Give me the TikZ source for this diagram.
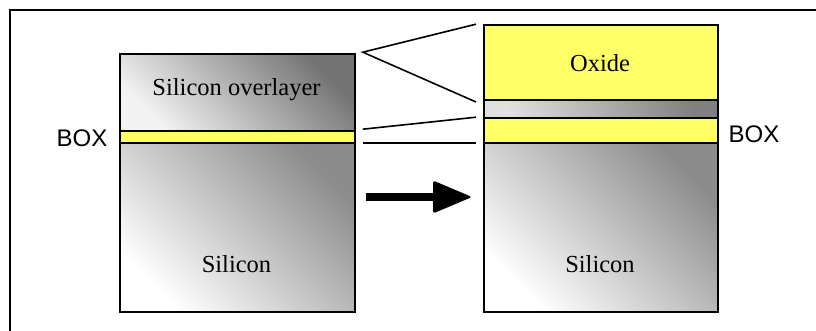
\documentclass[tikz,border=0pt]{standalone}
\usepackage{fontspec}
\setmainfont{Liberation Serif}
\newfontfamily\arialfont{Liberation Sans}
\usetikzlibrary{calc}
\definecolor{oxyellow}{RGB}{255,255,102}
\tikzset{
  layer/.style={draw=black, line width=1.8pt, inner sep=0pt, anchor=south west, minimum width=235pt},
  silicon/.style={layer, shading=axis, top color=black!45, middle color=black!12, bottom color=white, shading angle=-45},
  overlay/.style={layer, shading=axis, top color=black!55, middle color=black!25, bottom color=black!5, shading angle=-45},
  thinsi/.style={layer, shading=axis, top color=black!50, middle color=black!20, bottom color=black!12, shading angle=-70},
  oxide/.style={layer, fill=oxyellow},
  zoomline/.style={line width=1.6pt, black},
  lbl/.style={font=\fontsize{24.5}{28}\selectfont, anchor=base, inner sep=0pt},
  sanslbl/.style={font=\arialfont\fontsize{24}{28}\selectfont, anchor=base, inner sep=0pt},
  frameline/.style={line width=1.8pt, black}
}
\begin{document}
\begin{tikzpicture}[x=1pt,y=1pt]
\useasboundingbox (0,0) rectangle (816,331);
% frame (top and left edges visible)
\coordinate (fbl) at (10,-2);
\coordinate (ftl) at (10,321);
\coordinate (ftr) at (818,321);
\draw[frameline] (fbl) -- (ftl) -- (ftr);
% left stack
\node[overlay, minimum height=77pt] (lov) at (119,199) {};
\node[oxide, minimum height=12pt] (lbox) at (119,187) {};
\node[silicon, minimum height=169pt] (lsi) at (119,18) {};
% right stack
\node[oxide, minimum width=234pt, minimum height=75pt] (rox) at (483,230) {};
\node[thinsi, minimum width=234pt, minimum height=18pt] (rthin) at (483,212) {};
\node[oxide, minimum width=234pt, minimum height=25pt] (rbox) at (483,187) {};
\node[silicon, minimum width=234pt, minimum height=169pt] (rsi) at (483,18) {};
% labels
\node[lbl] (tov) at (236.5,235) {Silicon overlayer};
\node[lbl] (tlsi) at (236.5,58) {Silicon};
\node[lbl] (trsi) at (600,58) {Silicon};
\node[lbl] (tox) at (600,259) {Oxide};
\node[sanslbl] (tboxl) at (82,184) {BOX};
\node[sanslbl] (tboxr) at (754,188) {BOX};
% zoom lines
\coordinate (a1) at ($(lov.north east)+(7,1)$);
\coordinate (b1) at ($(rox.north west)+(-7,0)$);
\coordinate (b2) at ($(rox.south west)+(-7,-1)$);
\coordinate (a2) at ($(lbox.north east)+(7,1)$);
\coordinate (b3) at ($(rbox.north west)+(-7,0)$);
\coordinate (a3) at ($(lbox.south east)+(7,1)$);
\coordinate (b4) at ($(rbox.south west)+(-7,1)$);
\draw[zoomline] (b1) -- (a1) -- (b2);
\draw[zoomline] (a2) -- (b3);
\draw[zoomline] (a3) -- (b4);
% process arrow
\coordinate (as) at (366,134);
\coordinate (ab) at (436,134);
\coordinate (ae) at (472,134);
\draw[line width=8pt, black] (as) -- (ab);
\fill[black, rounded corners=2.5pt] ($(ae)+(-39,16.5)$) -- (ae) -- ($(ae)+(-39,-16.5)$) -- cycle;
\end{tikzpicture}
\end{document}
